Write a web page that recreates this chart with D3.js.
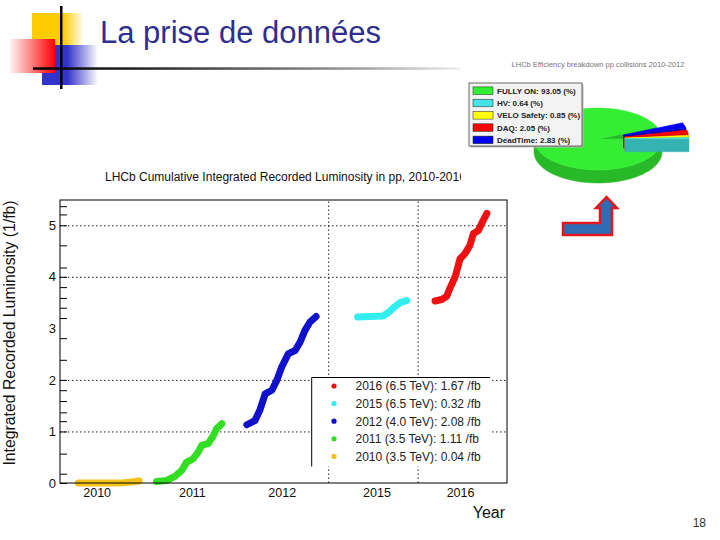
<!DOCTYPE html>
<html><head><meta charset="utf-8">
<script src="https://cdn.jsdelivr.net/npm/d3@7"></script>
<style>
body{margin:0;background:#fff}
svg{display:block}
text{font-family:Arial,"Liberation Sans",sans-serif}
</style>
</head><body>
<svg id="c" width="720" height="540"></svg>
<script>
// ---------- data ----------
const slideTitle = "La prise de données";
const chartTitle = "LHCb Cumulative Integrated Recorded Luminosity in pp, 2010-2016";
const yAxisTitle = "Integrated Recorded Luminosity (1/fb)";
const xAxisTitle = "Year";
const pageNumber = "18";

const yearLabels = ["2010", "2011", "2012", "2015", "2016"];
const yearTickPos = [8.2, 29.5, 49.6, 70.8, 89.5];
const periodBreaks = [60, 80];
const yLabelVals = [0, 1, 2, 3, 4, 5];
const yTickMarks = [0, 0.18, 0.57, 1, 1.2, 1.37, 1.59, 1.8, 2, 2.39, 2.81, 3.2, 3.4, 3.59, 3.8, 4, 4.18, 4.61, 5, 5.21, 5.37];
const yGridVals = [1, 2, 4, 5];

const x2010 = [4.1, 7.5, 11.2, 14.2, 15.3, 16.4, 17.7];
const y2010 = [0, 0, 0, 0.005, 0.015, 0.025, 0.04];
const x2011 = [21.6, 23.9, 25.7, 27.2, 28.3, 29.8, 30.9, 31.7, 33.2, 34.3, 35.0, 36.2];
const y2011 = [0.03, 0.05, 0.13, 0.24, 0.40, 0.47, 0.60, 0.73, 0.77, 0.92, 1.05, 1.15];
const x2012 = [41.8, 43.6, 44.7, 45.9, 47.4, 48.5, 49.6, 51.1, 52.6, 53.7, 54.8, 55.9, 57.3];
const y2012 = [1.13, 1.21, 1.41, 1.73, 1.80, 1.99, 2.25, 2.51, 2.57, 2.73, 2.96, 3.12, 3.23];
const x2015 = [66.6, 69.4, 72.3, 73.5, 74.9, 76.1, 77.6];
const y2015 = [3.22, 3.23, 3.24, 3.31, 3.42, 3.50, 3.54];
const x2016 = [83.9, 85.4, 86.5, 87.2, 88.4, 89.5, 90.6, 91.7, 92.5, 93.6, 94.3, 95.5];
const y2016 = [3.53, 3.56, 3.62, 3.77, 4.00, 4.35, 4.45, 4.61, 4.84, 4.90, 5.03, 5.23];

const legendYears = ["2016", "2015", "2012", "2011", "2010"];
const legendEnergy = ["6.5", "6.5", "4.0", "3.5", "3.5"];
const legendLumi = ["1.67", "0.32", "2.08", "1.11", "0.04"];

const pieTitle = "LHCb Efficiency breakdown pp collisions 2010-2012";
const pieLabels = ["FULLY ON", "HV", "VELO Safety", "DAQ", "DeadTime"];
const pieValues = [93.05, 0.64, 0.85, 2.05, 2.83];

// ---------- styles ----------
const seriesColors = {"2016": "#ee1111", "2015": "#33eeee", "2012": "#1111cc", "2011": "#33dd22", "2010": "#f5c21c"};
const pieColors = ["#33ee33", "#44e4e4", "#ffff00", "#ff0000", "#0000ee"];

const svg = d3.select("#c");
const defs = svg.append("defs");

// ---------- slide decoration ----------
function lg(id, stops) {
  const g = defs.append("linearGradient").attr("id", id).attr("x1", 0).attr("x2", 1).attr("y1", 0).attr("y2", 0);
  stops.forEach(s => g.append("stop").attr("offset", s[0]).attr("stop-color", s[1]));
}
lg("gy", [[0, "#ffcc00"], [0.6, "#ffcc00"], [1, "#ffffff"]]);
lg("gb", [[0, "#3333cc"], [0.45, "#3333cc"], [1, "#ffffff"]]);
lg("gr", [[0, "#fff4f4"], [1, "#ff0000"]]);
lg("gl", [[0, "#000000"], [0.25, "#222222"], [0.75, "#999999"], [1, "#eeeeee"]]);

svg.append("rect").attr("x", 32).attr("y", 13).attr("width", 52).attr("height", 34).attr("fill", "url(#gy)");
svg.append("rect").attr("x", 42).attr("y", 45).attr("width", 56).attr("height", 40).attr("fill", "url(#gb)");
svg.append("rect").attr("x", 10).attr("y", 39).attr("width", 45).attr("height", 34).attr("fill", "url(#gr)");
svg.append("rect").attr("x", 60).attr("y", 6).attr("width", 2.5).attr("height", 83).attr("fill", "#000");
svg.append("rect").attr("x", 33).attr("y", 67.3).attr("width", 427).attr("height", 2.5).attr("fill", "url(#gl)");

svg.append("text").attr("x", 100).attr("y", 43).attr("font-size", 31).attr("fill", "#2e2e8e").text(slideTitle);

// ---------- main chart ----------
const L = 60, R = 507, T = 200, B = 483;
const x = d3.scaleLinear().domain([0, 100]).range([L, R]);
const y = d3.scaleLinear().domain([0, 5.49]).range([B, T]);

defs.append("clipPath").attr("id", "tclip").append("rect").attr("x", 0).attr("y", 150).attr("width", 461).attr("height", 40);
svg.append("text").attr("clip-path", "url(#tclip)").attr("x", 105).attr("y", 181).attr("font-size", 12).attr("fill", "#111").text(chartTitle);

// grid
const gGrid = svg.append("g").attr("transform", `translate(${L},0)`)
  .call(d3.axisLeft(y).tickValues(yGridVals).tickSize(-(R - L)).tickFormat(""));
gGrid.select(".domain").remove();
gGrid.selectAll("line").attr("stroke", "#222").attr("stroke-width", 1).attr("stroke-dasharray", "1.5,2.5");
const gVGrid = svg.append("g").attr("transform", `translate(0,${B})`)
  .call(d3.axisBottom(x).tickValues(periodBreaks).tickSize(-(B - T)).tickFormat(""));
gVGrid.select(".domain").remove();
gVGrid.selectAll("line").attr("stroke", "#222").attr("stroke-width", 1).attr("stroke-dasharray", "1.5,2.5");

// series
const series = [
  ["2010", x2010, y2010], ["2011", x2011, y2011], ["2012", x2012, y2012],
  ["2015", x2015, y2015], ["2016", x2016, y2016]
];
const line = d3.line().x(d => x(d[0])).y(d => y(d[1]));
series.forEach(([name, xs, ys]) => {
  const pts = xs.map((v, i) => [v, ys[i]]);
  svg.append("path").attr("d", line(pts)).attr("fill", "none")
    .attr("stroke", seriesColors[name]).attr("stroke-width", 7)
    .attr("stroke-linecap", "round").attr("stroke-linejoin", "round");
});

// legend
const lgX = 311.7, lgY = 377.5, lgW = 178.5, lgH = 89, rowStep = 17.6;
svg.append("rect").attr("x", lgX).attr("y", lgY).attr("width", lgW).attr("height", lgH).attr("fill", "#fff");
svg.append("line").attr("x1", lgX).attr("x2", lgX + lgW).attr("y1", lgY).attr("y2", lgY).attr("stroke", "#000");
svg.append("line").attr("x1", lgX).attr("x2", lgX).attr("y1", lgY).attr("y2", lgY + lgH).attr("stroke", "#000");
legendYears.forEach((yr, i) => {
  const cy = lgY + 8.5 + i * rowStep;
  svg.append("circle").attr("cx", 334).attr("cy", cy).attr("r", 2.6).attr("fill", seriesColors[yr]);
  svg.append("text").attr("x", 355.5).attr("y", cy + 4.3).attr("font-size", 12).attr("fill", "#222")
    .text(`${yr} (${legendEnergy[i]} TeV): ${legendLumi[i]} /fb`);
});

// frame
svg.append("rect").attr("x", L).attr("y", T).attr("width", R - L).attr("height", B - T)
  .attr("fill", "none").attr("stroke", "#000").attr("stroke-width", 1);

// y ticks (inside) and labels
const gTicks = svg.append("g").attr("transform", `translate(${L},0)`)
  .call(d3.axisLeft(y).tickValues(yTickMarks).tickSize(-7).tickFormat(""));
gTicks.select(".domain").remove();
gTicks.selectAll("line").attr("stroke", "#000");
const gYLab = svg.append("g").attr("transform", `translate(${L},0)`)
  .call(d3.axisLeft(y).tickValues(yLabelVals).tickSize(0).tickPadding(4).tickFormat(d3.format("d")));
gYLab.select(".domain").remove();
gYLab.selectAll("text").attr("font-size", 13).attr("fill", "#111").attr("font-family", "Arial,'Liberation Sans',sans-serif");

// x labels
const gXLab = svg.append("g").attr("transform", `translate(0,${B})`)
  .call(d3.axisBottom(x).tickValues(yearTickPos).tickSize(0).tickPadding(5).tickFormat((d, i) => yearLabels[i]));
gXLab.select(".domain").remove();
gXLab.selectAll("text").attr("font-size", 12.5).attr("fill", "#111").attr("font-family", "Arial,'Liberation Sans',sans-serif");

svg.append("text").attr("x", 505).attr("y", 518).attr("text-anchor", "end").attr("font-size", 16).attr("fill", "#111").text(xAxisTitle);
svg.append("text").attr("transform", "translate(15,333) rotate(-90)").attr("text-anchor", "middle")
  .attr("font-size", 15.8).attr("fill", "#111").text(yAxisTitle);

// ---------- pie (3D) ----------
svg.append("text").attr("x", 598).attr("y", 67).attr("text-anchor", "middle").attr("font-size", 7.5).attr("fill", "#777").text(pieTitle);

const pcx = 598, pcy = 139, prx = 64, pry = 31, pdep = 13, explode = 0.42;
const ccwOrder = [1, 2, 3, 4, 0];
const arcs = d3.pie().sort(null).value(i => pieValues[i]).startAngle(0).endAngle(2 * Math.PI)(ccwOrder);
function P(t, ox, oy, dz) { return [pcx + ox + prx * Math.cos(t), pcy + oy - pry * Math.sin(t) + dz]; }
function arcPts(a0, a1, ox, oy, dz) {
  const n = Math.max(2, Math.ceil((a1 - a0) / 0.04));
  return d3.range(n + 1).map(k => P(a0 + (a1 - a0) * k / n, ox, oy, dz));
}
const poly = pts => "M" + pts.map(p => p[0].toFixed(2) + "," + p[1].toFixed(2)).join("L") + "Z";
function drawSlice(a) {
  const idx = a.data, a0 = a.startAngle, a1 = a.endAngle;
  const mid = (a0 + a1) / 2;
  const e = idx === 0 ? 0 : explode;
  const ox = e * prx * Math.cos(mid), oy = -e * pry * Math.sin(mid);
  const top = pieColors[idx], side = d3.color(top).darker(0.7).formatHex();
  const g = svg.append("g");
  const C = [pcx + ox, pcy + oy];
  if (Math.cos(a0) > 0) {
    const p = P(a0, ox, oy, 0), q = P(a0, ox, oy, pdep);
    g.append("path").attr("d", poly([C, p, q, [C[0], C[1] + pdep]])).attr("fill", side).attr("stroke", side).attr("stroke-width", 0.5);
  }
  if (Math.cos(a1) < 0) {
    const p = P(a1, ox, oy, 0), q = P(a1, ox, oy, pdep);
    g.append("path").attr("d", poly([C, p, q, [C[0], C[1] + pdep]])).attr("fill", side).attr("stroke", side).attr("stroke-width", 0.5);
  }
  const lo = Math.max(a0, Math.PI), hi = Math.min(a1, 2 * Math.PI);
  if (hi > lo) {
    const topArc = arcPts(lo, hi, ox, oy, 0), botArc = arcPts(lo, hi, ox, oy, pdep).reverse();
    g.append("path").attr("d", poly(topArc.concat(botArc))).attr("fill", side).attr("stroke", side).attr("stroke-width", 0.5);
  }
  g.append("path").attr("d", poly([C].concat(arcPts(a0, a1, ox, oy, 0)))).attr("fill", top).attr("stroke", top).attr("stroke-width", 0.5);
}
// draw big slice first, then small ones back to front
drawSlice(arcs[4]); drawSlice(arcs[3]); drawSlice(arcs[2]); drawSlice(arcs[1]); drawSlice(arcs[0]);

// pie legend
const plx = 469, ply = 83, plw = 113, plh = 63;
svg.append("rect").attr("x", plx + 1.5).attr("y", ply + 1.5).attr("width", plw).attr("height", plh).attr("fill", "#bbb");
svg.append("rect").attr("x", plx).attr("y", ply).attr("width", plw).attr("height", plh).attr("fill", "#f3f3f3").attr("stroke", "#444").attr("stroke-width", 0.8);
pieLabels.forEach((lab, i) => {
  const cy = ply + 7.7 + i * 12.3;
  svg.append("rect").attr("x", 473).attr("y", cy - 3.8).attr("width", 20).attr("height", 7.6)
    .attr("fill", pieColors[i]).attr("stroke", "#222").attr("stroke-width", 0.5);
  svg.append("text").attr("x", 497).attr("y", cy + 2.9).attr("font-size", 8).attr("font-weight", "bold").attr("fill", "#222")
    .text(`${lab}: ${pieValues[i].toFixed(2)} (%)`);
});

// arrow
svg.append("path").attr("d", "M563,223 L600,223 L600,208 L596,208 L606.5,197 L617,208 L612,208 L612,235 L563,235 Z")
  .attr("fill", "#2e6db4").attr("stroke", "#e3151d").attr("stroke-width", 2.5).attr("stroke-linejoin", "miter");

// page number
svg.append("text").attr("x", 706).attr("y", 527).attr("text-anchor", "end").attr("font-size", 12).attr("fill", "#333").text(pageNumber);
</script>
</body></html>
